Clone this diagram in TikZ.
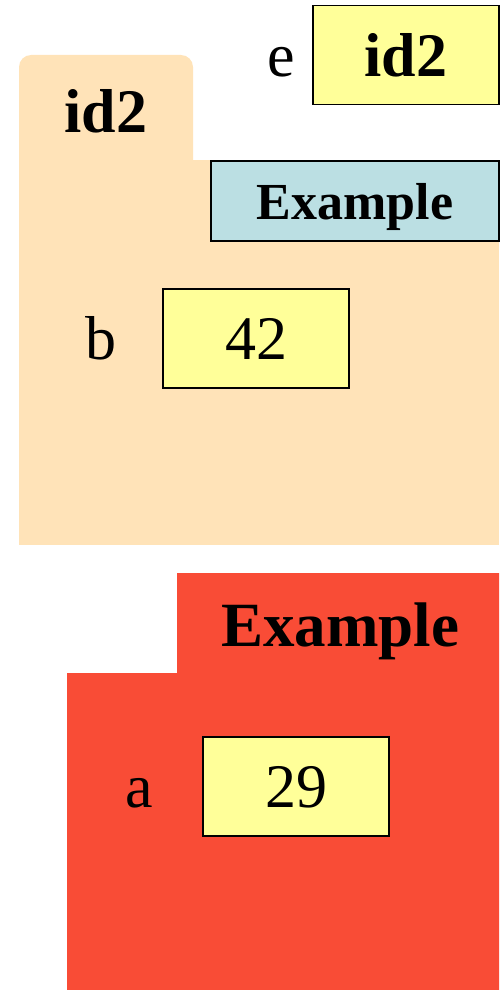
\documentclass[tikz,border=0pt]{standalone}
\usepackage{fontspec}
\setmainfont{Liberation Serif}
\usepackage{tikz}
\usetikzlibrary{positioning,calc}
\definecolor{folderwheat}{RGB}{255,227,184}
\definecolor{headerblue}{RGB}{187,223,227}
\definecolor{valyellow}{RGB}{255,255,153}
\definecolor{framered}{RGB}{249,76,54}

\begin{document}
\begin{tikzpicture}[x=1pt, y=-1pt, node distance=40pt]
  \tikzstyle{valbox} = [rectangle, draw, line width=1.5pt, fill=valyellow, minimum width=186pt, minimum height=99pt, text depth=0pt, font=\fontsize{62}{70}\selectfont]
  \tikzstyle{varname} = [inner sep=0pt, font=\fontsize{62}{70}\selectfont]
  \tikzstyle{header} = [rectangle, draw, line width=1.5pt, fill=headerblue, minimum width=288pt, minimum height=80pt, text depth=0pt, font=\fontsize{52}{60}\selectfont\bfseries]

  \useasboundingbox (0,0) rectangle (502,990);

  % folder id2
  \fill[folderwheat, rounded corners=12pt] (19,175) rectangle (193,55);
  \fill[folderwheat] (19,160) rectangle (499,545);
  \node[varname, font=\fontsize{62}{70}\selectfont\bfseries, anchor=base] (tabname) at (106,132) {id2};
  \node[header] (cls) at (355,201) {Example};
  \node[valbox] (val42) at (256,338.5) {42};
  \node[varname, base left=46pt of val42] (b) {b};

  % variable e
  \node[valbox, font=\fontsize{62}{70}\selectfont\bfseries] (valid) at (406,55) {id2};
  \node[varname, base left=17pt of valid] (e) {e};

  % frame Example
  \fill[framered] (177,573) -- (499,573) -- (499,990) -- (67,990) -- (67,673) -- (177,673) -- cycle;
  \node[varname, font=\fontsize{63}{70}\selectfont\bfseries, anchor=base] (frame) at (340,646) {Example};
  \node[valbox] (val29) at (296,786.5) {29};
  \node[varname, base left=49pt of val29] (a) {a};
\end{tikzpicture}
\end{document}
